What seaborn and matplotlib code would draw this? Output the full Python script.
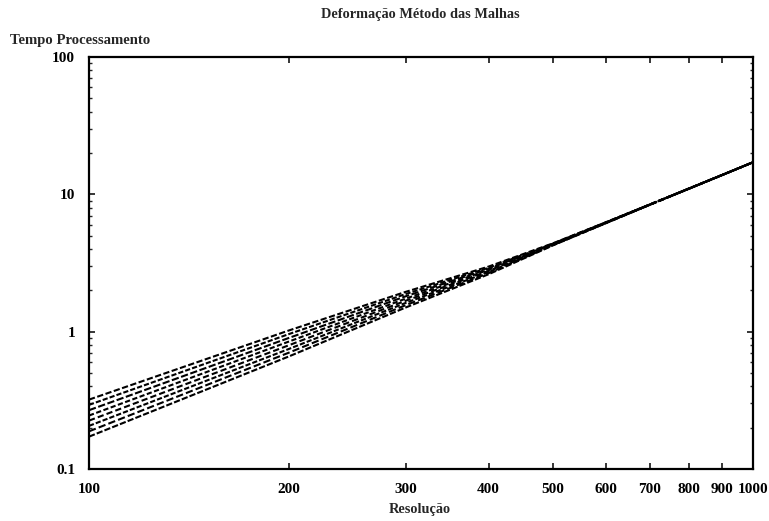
import matplotlib
matplotlib.use("Agg")
import matplotlib.pyplot as plt
import matplotlib.ticker as mticker
import numpy as np
import pandas as pd
import seaborn as sns

# Resolution values at which processing time was measured
resolucao = [100, 200, 300, 400, 500, 600, 700, 800, 900, 1000]

# Processing time (s) for each mesh configuration
tempo_1 = [0.320, 1.02, 1.95, 2.98, 4.40, 6.25, 8.45, 11.00, 13.87, 17.1]
tempo_2 = [0.293, 0.96, 1.88, 2.92, 4.38, 6.24, 8.44, 10.99, 13.87, 17.1]
tempo_3 = [0.268, 0.90, 1.81, 2.87, 4.36, 6.22, 8.44, 10.98, 13.86, 17.1]
tempo_4 = [0.245, 0.847, 1.74, 2.82, 4.34, 6.21, 8.43, 10.98, 13.86, 17.1]
tempo_5 = [0.225, 0.796, 1.68, 2.77, 4.31, 6.19, 8.42, 10.97, 13.86, 17.1]
tempo_6 = [0.206, 0.748, 1.62, 2.72, 4.29, 6.18, 8.41, 10.96, 13.86, 17.1]
tempo_7 = [0.188, 0.703, 1.56, 2.67, 4.27, 6.16, 8.41, 10.96, 13.85, 17.1]
tempo_8 = [0.172, 0.660, 1.50, 2.62, 4.25, 6.15, 8.40, 10.95, 13.85, 17.1]

series = [tempo_1, tempo_2, tempo_3, tempo_4, tempo_5, tempo_6, tempo_7, tempo_8]
series_names = [f"malha {i + 1}" for i in range(len(series))]

x_ticks = [100, 200, 300, 400, 500, 600, 700, 800, 900, 1000]
y_ticks = [0.1, 1, 10, 100]
y_tick_labels = ["0.1", "1", "10", "100"]

rows = []
for name, vals in zip(series_names, series):
    for r, t in zip(resolucao, vals):
        rows.append({"Resolução": r, "Tempo": t, "serie": name})
df = pd.DataFrame(rows)

sns.set_style("ticks")
plt.rcParams["font.family"] = ["Liberation Serif", "DejaVu Serif"]
plt.rcParams["font.weight"] = "bold"

fig = plt.figure(figsize=(7.69, 5.21), dpi=100)
ax = fig.add_axes([0.1157, 0.0998, 0.979 - 0.1157, 0.8906 - 0.0998])

dash_styles = [(3, 1.2), (2.5, 1), (3.5, 1.2), (2.5, 1.2), (3, 1.5), (2.5, 1), (3.5, 1.5), (3, 1)]
sns.lineplot(data=df, x="Resolução", y="Tempo", hue="serie", style="serie",
             palette=["black"] * len(series), dashes=dash_styles,
             linewidth=1.5, legend=False, ax=ax)

ax.set_xscale("log")
ax.set_yscale("log")
ax.set_xlim(100, 1000)
ax.set_ylim(0.1, 100)

ax.xaxis.set_major_locator(mticker.FixedLocator(x_ticks))
ax.xaxis.set_major_formatter(mticker.FixedFormatter([str(v) for v in x_ticks]))
ax.xaxis.set_minor_locator(mticker.NullLocator())
ax.yaxis.set_major_locator(mticker.FixedLocator(y_ticks))
ax.yaxis.set_major_formatter(mticker.FixedFormatter(y_tick_labels))
ax.yaxis.set_minor_locator(mticker.LogLocator(base=10, subs=np.arange(2, 10)))

ax.tick_params(axis="both", which="major", direction="in", length=4, width=1.1,
               top=True, right=True, labelsize=11, pad=10, colors="black")
ax.tick_params(axis="both", which="minor", direction="in", length=2.5, width=1.0,
               top=True, right=True)
for lab in ax.get_xticklabels() + ax.get_yticklabels():
    lab.set_fontweight("bold")

for sp in ax.spines.values():
    sp.set_visible(True)
    sp.set_linewidth(1.6)
    sp.set_color("black")

ax.set_xlabel("")
ax.set_ylabel("")

fig.text(0.546, 0.973, "Deformação Método das Malhas", ha="center", va="center",
         fontsize=10.3, fontweight="bold")
fig.text(0.013, 0.923, "Tempo Processamento", ha="left", va="center",
         fontsize=10.6, fontweight="bold")
fig.text(0.546, 0.022, "Resolução", ha="center", va="center",
         fontsize=10.3, fontweight="bold")

fig.savefig("out.png", dpi=100, facecolor="white")
